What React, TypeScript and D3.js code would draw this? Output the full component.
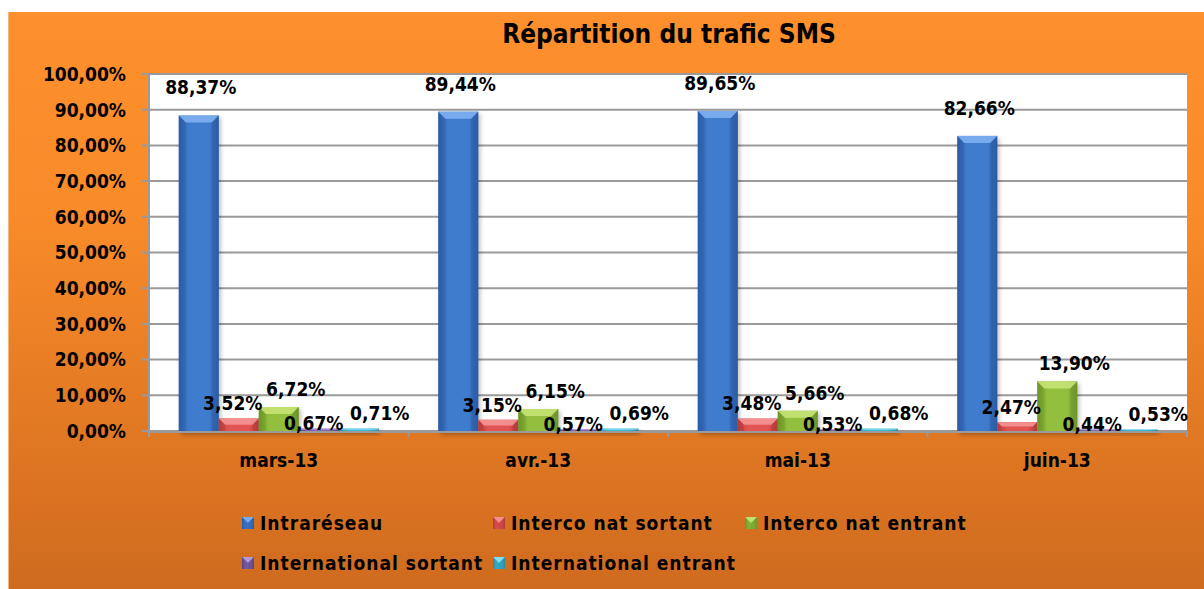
import React from "react";
import * as d3 from "d3";

// chart data
const categories = ["mars-13", "avr.-13", "mai-13", "juin-13"];
const seriesNames = [
  "Intraréseau",
  "Interco nat sortant",
  "Interco nat entrant",
  "International sortant",
  "International entrant",
];
const intrareseau = [88.37, 89.44, 89.65, 82.66];
const intercoSortant = [3.52, 3.15, 3.48, 2.47];
const intercoEntrant = [6.72, 6.15, 5.66, 13.9];
const internationalSortant = [0.67, 0.57, 0.53, 0.44];
const internationalEntrant = [0.71, 0.69, 0.68, 0.53];
const yTicks = [0, 10, 20, 30, 40, 50, 60, 70, 80, 90, 100];

const seriesValues = [intrareseau, intercoSortant, intercoEntrant, internationalSortant, internationalEntrant];

// look of each series: body, darker edge, light bevel, label nudge
const seriesStyle = [
  { body: "#407ccd", edge: "#2b5ba6", light: "#7eb0f2", dx: 2, dy: 28 },
  { body: "#e25454", edge: "#b53a3a", light: "#f59595", dx: -6, dy: 15 },
  { body: "#92bf3e", edge: "#6d9428", light: "#c6e375", dx: 17, dy: 18 },
  { body: "#8263ad", edge: "#5d4282", light: "#b8a0da", dx: -5, dy: 5 },
  { body: "#3eb8d4", edge: "#2a8aa3", light: "#94e0f0", dx: 21, dy: 15 },
];

const FONT = "'DejaVu Sans Condensed', 'DejaVu Sans', sans-serif";
const W = 1204;
const H = 589;
const plot = { left: 149, right: 1187, top: 74, bottom: 431 };

const pct = (v: number) => v.toFixed(2).replace(".", ",") + "%";

const Bar = ({ x, y, w, h, s, id }: any) => {
  const b = Math.min(7, h / 2, w / 2);
  return (
    <g>
      <rect x={x} y={y} width={w} height={h} fill={`url(#${id})`} />
      {/* top bevel */}
      <polygon
        points={`${x},${y} ${x + w},${y} ${x + w - b},${y + b} ${x + b},${y + b}`}
        fill={s.light}
        opacity={0.9}
      />
      {/* side bevels */}
      <polygon points={`${x},${y} ${x + b},${y + b} ${x + b},${y + h} ${x},${y + h}`} fill={s.edge} opacity={0.35} />
      <polygon
        points={`${x + w},${y} ${x + w - b},${y + b} ${x + w - b},${y + h} ${x + w},${y + h}`}
        fill={s.edge}
        opacity={0.5}
      />
    </g>
  );
};

export default function App() {
  const y = d3.scaleLinear().domain([0, 100]).range([plot.bottom, plot.top]);
  const x0 = d3.scaleBand<string>().domain(categories).range([plot.left, plot.right]).paddingInner(0).paddingOuter(0);
  const barW = 40;
  const po = (x0.bandwidth() / barW - seriesNames.length) / 2;
  const x1 = d3
    .scaleBand<string>()
    .domain(seriesNames)
    .range([0, x0.bandwidth()])
    .paddingInner(0)
    .paddingOuter(po);

  const legendCols = [242, 493, 745];
  const legendRows = [523, 563];

  return (
    <svg width={W} height={H} style={{ position: "absolute", left: 0, top: 0, background: "#fff" }} fontFamily={FONT}>
      <defs>
        <linearGradient id="bg" x1="0" y1="0" x2="0" y2="1">
          <stop offset="0" stopColor="#fd902c" />
          <stop offset="0.35" stopColor="#f98b29" />
          <stop offset="1" stopColor="#cf6b1f" />
        </linearGradient>
        {seriesStyle.map((s, i) => (
          <linearGradient key={i} id={`bar${i}`} x1="0" y1="0" x2="1" y2="0">
            <stop offset="0" stopColor={s.edge} />
            <stop offset="0.25" stopColor={s.body} />
            <stop offset="0.75" stopColor={s.body} />
            <stop offset="1" stopColor={s.edge} />
          </linearGradient>
        ))}
        <filter id="shadow" x="-20%" y="-20%" width="140%" height="140%">
          <feGaussianBlur stdDeviation="2" />
        </filter>
      </defs>

      <rect x={8} y={12} width={W - 8} height={H - 12} fill="url(#bg)" />
      <line x1={8.5} y1={12} x2={8.5} y2={H} stroke="#f7b47a" strokeWidth={1} />

      {/* title */}
      <text x={669} y={43} textAnchor="middle" fontSize={26} fontWeight="bold" fill="#000">
        Répartition du trafic SMS
      </text>

      {/* plot area */}
      <rect x={plot.left} y={plot.top} width={plot.right - plot.left} height={plot.bottom - plot.top} fill="#fff" />

      {/* grid + y axis */}
      {yTicks.map((t) => (
        <g key={t}>
          <line x1={plot.left - 7} x2={plot.right} y1={y(t)} y2={y(t)} stroke="#9a9a9a" strokeWidth={2} />
          <text x={126} y={y(t)} dy="0.36em" textAnchor="end" fontSize={19} fontWeight="bold" fill="#000">
            {pct(t)}
          </text>
        </g>
      ))}
      <line x1={plot.left} x2={plot.left} y1={plot.top} y2={plot.bottom + 6} stroke="#9a9a9a" strokeWidth={2} />

      {/* x axis ticks */}
      {[...categories.map((c) => x0(c) as number), plot.right].map((xx, i) => (
        <line key={i} x1={xx} x2={xx} y1={plot.bottom} y2={plot.bottom + 6} stroke="#9a9a9a" strokeWidth={2} />
      ))}
      {categories.map((c) => (
        <text
          key={c}
          x={(x0(c) as number) + x0.bandwidth() / 2}
          y={467}
          textAnchor="middle"
          fontSize={19}
          fontWeight="bold"
          fill="#000"
        >
          {c}
        </text>
      ))}

      {/* bar shadows */}
      {categories.map((c, ci) =>
        seriesNames.map((sn, si) => {
          const v = seriesValues[si][ci];
          const bx = (x0(c) as number) + (x1(sn) as number);
          return (
            <rect
              key={`sh-${c}-${sn}`}
              x={bx + 2}
              y={y(v) + 2}
              width={barW}
              height={plot.bottom - y(v) + 2}
              fill="#000"
              opacity={0.25}
              filter="url(#shadow)"
            />
          );
        })
      )}

      {/* bars */}
      {categories.map((c, ci) =>
        seriesNames.map((sn, si) => {
          const v = seriesValues[si][ci];
          const bx = (x0(c) as number) + (x1(sn) as number);
          return (
            <Bar
              key={`b-${c}-${sn}`}
              x={bx}
              y={y(v)}
              w={barW}
              h={plot.bottom - y(v)}
              s={seriesStyle[si]}
              id={`bar${si}`}
            />
          );
        })
      )}

      {/* the x axis line over the bars' feet */}
      <line x1={plot.left} x2={plot.right} y1={plot.bottom + 1} y2={plot.bottom + 1} stroke="#9a9a9a" strokeWidth={2} />

      {/* data labels */}
      {categories.map((c, ci) =>
        seriesNames.map((sn, si) => {
          const v = seriesValues[si][ci];
          const s = seriesStyle[si];
          const bx = (x0(c) as number) + (x1(sn) as number) + barW / 2;
          return (
            <text
              key={`l-${c}-${sn}`}
              x={bx + s.dx}
              y={y(v) - s.dy}
              dy="0.36em"
              textAnchor="middle"
              fontSize={19}
              fontWeight="bold"
              fill="#000"
            >
              {pct(v)}
            </text>
          );
        })
      )}

      {/* legend */}
      {seriesNames.map((sn, i) => {
        const lx = legendCols[i % 3];
        const ly = legendRows[Math.floor(i / 3)];
        const s = seriesStyle[i];
        return (
          <g key={sn}>
            <Bar x={lx} y={ly - 6} w={12} h={12} s={s} id={`bar${i}`} />
            <text x={lx + 18} y={ly} dy="0.36em" fontSize={19} fontWeight="bold" letterSpacing={1} fill="#000">
              {sn}
            </text>
          </g>
        );
      })}
    </svg>
  );
}
